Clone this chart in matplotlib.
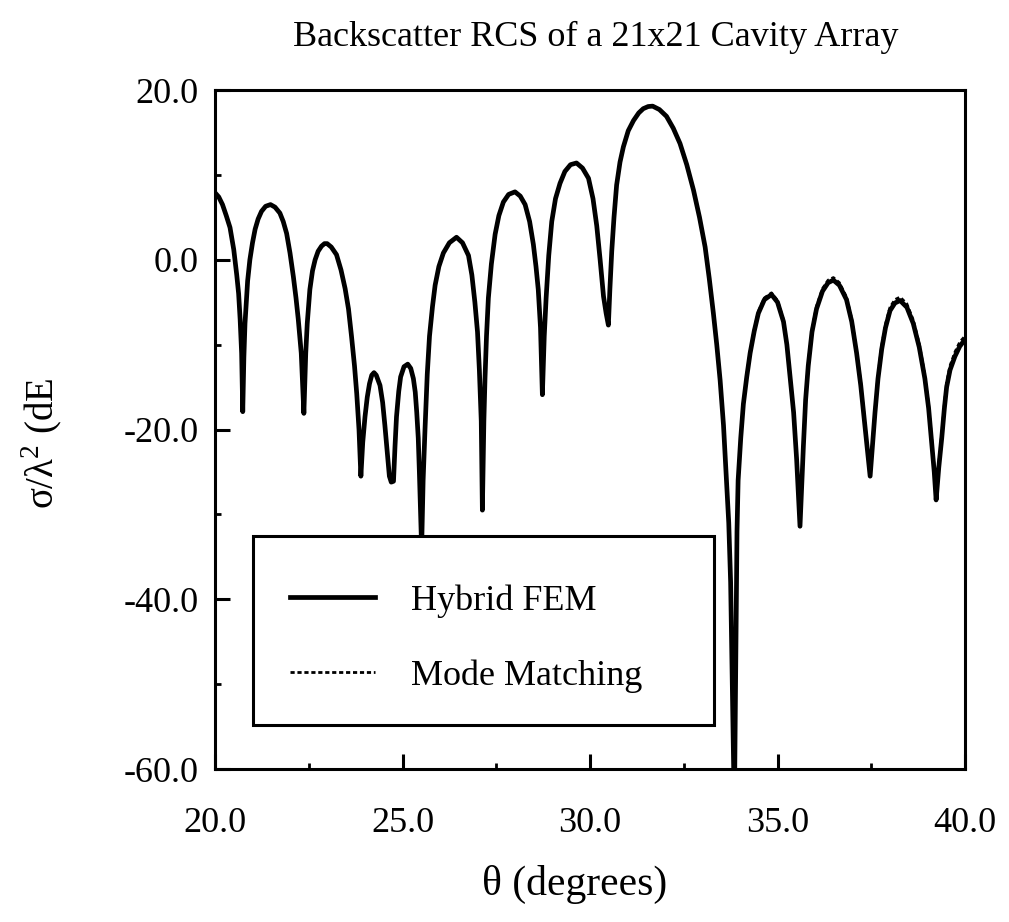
import numpy as np
import matplotlib
matplotlib.use('Agg')
import matplotlib.pyplot as plt
from matplotlib.patches import Rectangle

# angle (degrees), one row per lobe
theta = [20.0, 20.1, 20.2, 20.3, 20.4, 20.5, 20.58, 20.63, 20.67, 20.71, 20.74,
         20.77, 20.8, 20.87, 20.93, 21.0, 21.07, 21.15, 21.24, 21.35, 21.48, 21.6, 21.73, 21.82, 21.91, 22.0, 22.09, 22.16, 22.22, 22.3, 22.37,
         22.42, 22.46, 22.53, 22.6, 22.67, 22.75, 22.84, 22.92, 22.99, 23.1, 23.24, 23.36, 23.47, 23.56, 23.64, 23.72, 23.78, 23.84, 23.89,
         23.94, 24.0, 24.06, 24.12, 24.18, 24.24, 24.3, 24.36, 24.4, 24.47, 24.53, 24.6, 24.65, 24.7, 24.76,
         24.8, 24.84, 24.9, 24.95, 25.04, 25.14, 25.22, 25.29, 25.34, 25.38, 25.42, 25.45, 25.51,
         25.55, 25.6, 25.66, 25.72, 25.8, 25.87, 25.97, 26.09, 26.25, 26.44, 26.6, 26.76, 26.85, 26.93, 27.0, 27.05, 27.1, 27.13,
         27.17, 27.2, 27.24, 27.29, 27.37, 27.47, 27.57, 27.69, 27.83, 28.0, 28.14, 28.27, 28.39, 28.49, 28.56, 28.62, 28.68, 28.73,
         28.78, 28.83, 28.9, 28.98, 29.08, 29.2, 29.33, 29.48, 29.64, 29.8, 29.96, 30.08, 30.18, 30.27, 30.36, 30.43, 30.49,
         30.53, 30.58, 30.64, 30.71, 30.8, 30.89, 31.02, 31.16, 31.3, 31.42, 31.55, 31.67, 31.85, 32.04, 32.22, 32.4, 32.58, 32.76, 32.92, 33.07, 33.18, 33.29, 33.38, 33.47, 33.56, 33.64, 33.7, 33.75, 33.85,
         33.92, 33.95, 34.02, 34.09, 34.18, 34.27, 34.38, 34.49, 34.65, 34.84, 35.0, 35.16, 35.25, 35.33, 35.43, 35.51, 35.6,
         35.65, 35.69, 35.75, 35.82, 35.92, 36.04, 36.2, 36.35, 36.49, 36.65, 36.84, 36.98, 37.11, 37.22, 37.33, 37.41, 37.47,
         37.53, 37.6, 37.68, 37.78, 37.88, 38.0, 38.13, 38.27, 38.45, 38.62, 38.78, 38.93, 39.03, 39.11, 39.18, 39.23,
         39.3, 39.38, 39.45, 39.51, 39.6, 39.73, 39.86, 40.0]

hybrid_fem = [7.9, 7.4, 6.5, 5.2, 3.8, 1.2, -1.8, -4.0, -7.0, -11.0, -17.9,
              -11.5, -7.5, -2.5, 0.0, 2.0, 3.6, 4.8, 5.7, 6.3, 6.5, 6.2, 5.5, 4.5, 3.1, 0.8, -2.0, -4.5, -7.0, -11.0, -18.1,
              -11.0, -7.5, -3.5, -1.3, 0.0, 1.0, 1.6, 1.9, 1.9, 1.5, 0.6, -1.2, -3.4, -5.8, -9.0, -12.5, -15.8, -20.0, -25.5,
              -21.5, -18.5, -16.2, -14.6, -13.6, -13.3, -13.6, -14.3, -14.8, -16.8, -19.5, -23.0, -25.5, -26.2, -26.1,
              -22.0, -18.5, -15.5, -13.8, -12.6, -12.3, -12.8, -14.0, -15.6, -18.0, -21.0, -25.0, -34.0,
              -26.0, -20.0, -13.5, -9.0, -5.5, -3.0, -0.8, 0.8, 2.0, 2.65, 2.0, 0.5, -1.8, -5.0, -8.5, -13.0, -19.0, -29.5,
              -19.0, -14.0, -9.0, -4.5, -0.5, 3.0, 5.2, 6.8, 7.7, 8.0, 7.5, 6.5, 4.5, 1.8, -0.8, -3.5, -8.0, -15.9,
              -9.0, -4.5, 0.5, 4.5, 7.2, 9.0, 10.4, 11.2, 11.4, 10.8, 9.6, 7.2, 4.0, 0.0, -4.3, -6.3, -7.7,
              -3.5, 1.0, 5.0, 8.8, 11.5, 13.3, 15.2, 16.4, 17.3, 17.8, 18.05, 18.1, 17.7, 16.9, 15.5, 13.7, 11.2, 8.2, 5.0, 1.5, -2.2, -6.3, -10.0, -14.2, -19.5, -26.0, -31.0, -38.0, -65.0,
              -32.0, -26.0, -21.0, -17.0, -13.8, -11.0, -8.4, -6.3, -4.7, -4.1, -5.0, -7.3, -10.0, -13.5, -18.0, -23.5, -31.4,
              -26.0, -22.0, -16.5, -12.5, -8.5, -5.8, -3.7, -2.7, -2.4, -3.0, -4.7, -7.3, -11.0, -14.8, -19.5, -22.8, -25.5,
              -22.0, -18.0, -14.0, -10.5, -8.0, -6.0, -5.1, -4.8, -5.6, -7.5, -10.3, -14.0, -17.5, -21.5, -25.0, -28.3,
              -24.5, -21.0, -17.5, -15.0, -13.0, -11.4, -10.2, -9.4]

# mode matching sits on top of the FEM curve up to ~33.9 deg, then runs slightly higher
mm_tail = [-31.5, -25.8, -20.8, -16.8, -13.6, -10.8, -8.2, -6.1, -4.5, -3.9, -4.8, -7.1, -9.8, -13.3, -17.8, -23.2, -31.0,
           -25.7, -21.7, -16.2, -12.2, -8.2, -5.5, -3.4, -2.4, -2.1, -2.7, -4.4, -7.0, -10.7, -14.5, -19.2, -22.5, -25.2,
           -21.7, -17.7, -13.6, -10.1, -7.6, -5.6, -4.7, -4.4, -5.2, -7.1, -9.9, -13.6, -17.1, -21.0, -24.5, -27.8,
           -24.0, -20.5, -17.0, -14.5, -12.5, -10.9, -9.7, -9.0]
mode_matching = hybrid_fem[:len(hybrid_fem) - len(mm_tail)] + mm_tail

x_ticks = [20.0, 25.0, 30.0, 35.0, 40.0]
y_ticks = [-60.0, -40.0, -20.0, 0.0, 20.0]

plt.rcParams['font.family'] = ['Liberation Serif', 'DejaVu Serif']
plt.rcParams['axes.unicode_minus'] = False
plt.rcParams['mathtext.fontset'] = 'custom'
plt.rcParams['mathtext.rm'] = 'Liberation Serif'

fig = plt.figure(figsize=(10.09, 9.22), dpi=100)
ax = fig.add_axes([215 / 1009, 1 - 769 / 922, 750 / 1009, 679 / 922])

ax.plot(theta, mode_matching, color='black', linewidth=2.0, linestyle=(0, (1.5, 1.0)),
        label='Mode Matching', zorder=2)
ax.plot(theta, hybrid_fem, color='black', linewidth=3.4, label='Hybrid FEM', zorder=3)

ax.set_xlim(20, 40)
ax.set_ylim(-60, 20)
ax.set_xticks(x_ticks)
ax.set_yticks(y_ticks)
ax.set_xticklabels(['%.1f' % v for v in x_ticks])
ax.set_yticklabels(['%.1f' % v for v in y_ticks])
ax.set_xticks([22.5, 27.5, 32.5, 37.5], minor=True)
ax.set_yticks([-50, -30, -10, 10], minor=True)
ax.tick_params(which='major', direction='in', length=11, width=2.2, labelsize=26)
ax.tick_params(which='minor', direction='in', length=4, width=2.0)
ax.tick_params(axis='x', which='major', pad=27)
ax.tick_params(axis='y', which='major', pad=12)
for s in ax.spines.values():
    s.set_linewidth(2.2)

# legend box drawn as a white rectangle, entries placed inside it
box = Rectangle((0.051, 0.065), 0.614, 0.278, transform=ax.transAxes, facecolor='white',
                edgecolor='black', linewidth=2.2, zorder=4)
ax.add_patch(box)

handles, labels = ax.get_legend_handles_labels()
leg = ax.legend(handles[::-1], labels[::-1], loc='center left',
                bbox_to_anchor=(0.1, 0.192), fontsize=26, frameon=False,
                handlelength=2.35, handletextpad=1.0, labelspacing=1.15,
                borderpad=0.0, borderaxespad=0.0)
leg.set_zorder(5)

fig.text(0.59, 0.959, 'Backscatter RCS of a 21x21 Cavity Array', ha='center', va='center',
         fontsize=26)
fig.text(575 / 1009, 1 - 884 / 922, '\u03b8 (degrees)', ha='center', va='center', fontsize=30)
fig.text(42 / 1009, 1 - 443 / 922, '\u03c3/\u03bb$^{2}$ (dE', ha='center', va='center',
         rotation=90, fontsize=28)

plt.savefig('out.png', dpi=100)
